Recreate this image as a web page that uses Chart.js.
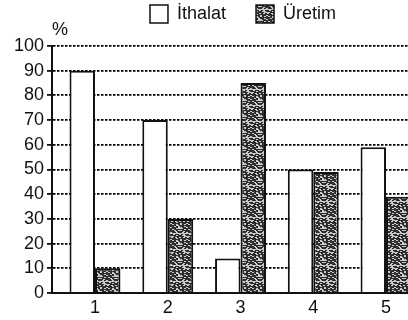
<!DOCTYPE html>
<html><head><meta charset="utf-8">
<script src="https://cdn.jsdelivr.net/npm/chart.js@4/dist/chart.umd.min.js"></script>
<style>html,body{margin:0;padding:0;background:#fff;overflow:hidden}
#wrap{width:408px;height:320px;position:relative}</style>
</head><body><div id="wrap"><canvas id="c" width="408" height="320"></canvas></div>
<script>
// ---- data ----
const categories = ['1', '2', '3', '4', '5'];
const seriesNames = ['İthalat', 'Üretim'];
const ithalatValues = [90, 70, 14, 50, 59];
const uretimValues = [10, 30, 85, 49, 39];
const yMin = 0, yMax = 100, yStep = 10;
const unitLabel = '%';

const canvas = document.getElementById('c');
const ctx = canvas.getContext('2d');

function makePattern() {
  const s = 16;
  const pc = document.createElement('canvas');
  pc.width = s; pc.height = s;
  const g = pc.getContext('2d');
  g.fillStyle = '#2e2e2e';
  g.fillRect(0, 0, s, s);
  g.fillStyle = '#c8c8c8';
  for (let y = 0; y < s; y++) {
    for (let x = 0; x < s; x++) {
      const cx = Math.floor((x + (y % 3)) / 2);
      const h = (cx * 7 + y * 11 + y * y * 3 + cx * y * 5) % 13;
      if (h < 5) g.fillRect(x, y, 1, 1);
    }
  }
  return ctx.createPattern(pc, 'repeat');
}
const texture = makePattern();

const FONT = "'Liberation Sans', Arial, sans-serif";
const FS = 18;

const shiftPlugin = {
  id: 'shiftBlocks',
  afterLayout(chart) {
    const lg = chart.legend;
    if (lg) { lg.left += 39; lg.right += 39; }
    const t = chart.titleBlock;
    if (t) { t.left += 52; t.right += 52; t.top -= 9; t.bottom -= 9; }
  }
};

new Chart(ctx, {
  type: 'bar',
  data: {
    datasets: [
      {
        label: seriesNames[0],
        data: categories.map((c, i) => ({ x: i + 1, y: ithalatValues[i] })),
        backgroundColor: '#ffffff',
        borderColor: '#111111',
        borderWidth: 2,
        borderSkipped: 'bottom',
        categoryPercentage: 0.7,
        barPercentage: 1.0
      },
      {
        label: seriesNames[1],
        data: categories.map((c, i) => ({ x: i + 1, y: uretimValues[i] })),
        backgroundColor: texture,
        borderColor: '#111111',
        borderWidth: 2,
        borderSkipped: 'bottom',
        categoryPercentage: 0.7,
        barPercentage: 1.0
      }
    ]
  },
  options: {
    responsive: false,
    animation: false,
    devicePixelRatio: 1,
    layout: { padding: 0 },
    plugins: {
      tooltip: { enabled: false },
      legend: {
        display: true,
        position: 'top',
        align: 'center',
        labels: {
          boxWidth: 18,
          boxHeight: 18,
          padding: 5,
          color: '#111',
          font: { family: FONT, size: FS },
          generateLabels(chart) {
            const items = Chart.defaults.plugins.legend.labels.generateLabels(chart);
            items.forEach(it => { it.lineWidth = 1.5; });
            if (items[0]) items[0].text = items[0].text + '     ';
            return items;
          }
        }
      },
      title: {
        display: true,
        text: unitLabel,
        align: 'start',
        weight: 500,
        color: '#111',
        font: { family: FONT, size: FS, weight: 'normal', lineHeight: 13 / FS },
        padding: 0
      }
    },
    scales: {
      x: {
        type: 'linear',
        min: 0.409,
        max: 5.302,
        offset: false,
        afterFit(scale) { scale.height = 27; },
        grid: { display: false, drawTicks: false, tickLength: 0, offset: false },
        border: { display: true, color: '#111', width: 2 },
        ticks: {
          stepSize: 1,
          includeBounds: false,
          autoSkip: false,
          maxRotation: 0,
          padding: 4,
          color: '#111',
          font: { family: FONT, size: FS },
          callback: (v) => Number.isInteger(v) && v >= 1 && v <= categories.length ? categories[v - 1] : ''
        }
      },
      y: {
        min: yMin,
        max: yMax,
        afterFit(scale) { scale.width = 52; },
        grid: {
          color: '#000',
          lineWidth: 1.8,
          drawTicks: true,
          tickLength: 5,
          tickBorderDash: [],
          tickColor: '#111',
          tickWidth: 1.8
        },
        border: { display: true, color: '#111', width: 2, dash: [2.5, 1.5] },
        ticks: {
          stepSize: yStep,
          padding: 3,
          color: '#111',
          font: { family: FONT, size: FS }
        }
      }
    }
  },
  plugins: [shiftPlugin]
});
</script></body></html>
